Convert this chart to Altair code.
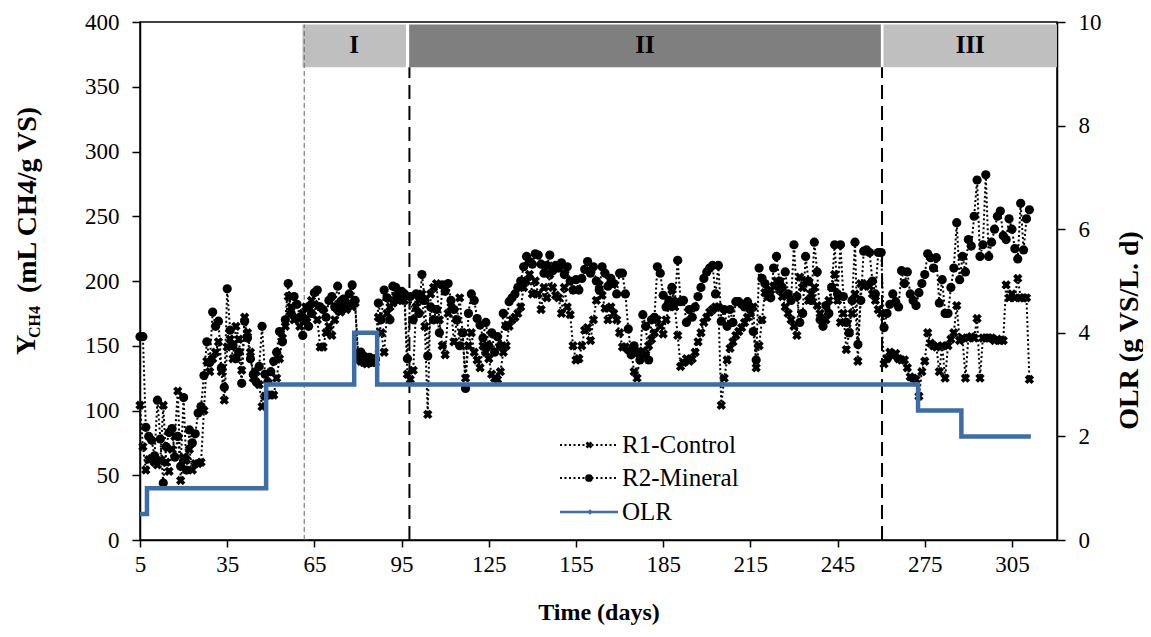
import altair as alt
import pandas as pd

first_day = 5
r1_control = [
    104, 72, 54, 62, 63, 60, 58, 62, 104, 60, 53, 70, 80, 115, 46, 64, 62, 70, 54, 59, 59, 60, 100, 138, 130, 140,
    145, 153, 130, 108, 149, 155, 140, 165, 155, 131, 172, 160, 145, 125, 130, 120, 103, 111, 112, 112,
    112, 125, 140, 156, 165, 188, 180, 170, 172, 165,
    175, 180, 180, 185, 182, 170, 149, 149, 160, 165, 158, 170, 178, 176, 180, 178, 183, 180, 183, 140,
    138, 137, 136, 137, 137, 137, 172, 160, 145, 175,
    180, 183, 188, 185, 185, 185, 128, 124, 131, 180, 185, 190, 165, 97, 190, 195, 198, 170, 150, 143,
    175, 180, 153, 170, 187, 160, 125, 150, 160, 145,
    139, 133, 150, 145, 140, 128, 125, 124, 130, 145, 150, 165, 170, 172, 175, 180, 195, 200, 205, 190,
    200, 190, 178, 195, 187, 205, 195, 189, 187, 175,
    195, 180, 174, 150, 139, 140, 150, 162, 164, 154, 170, 185, 197, 189, 179, 170, 180, 175, 170, 160,
    149, 149, 147, 146, 130, 125, 143, 146, 143, 150,
    155, 160, 170, 165, 159, 170, 180, 193, 180, 158, 134, 137, 140, 138, 140, 145, 153, 160, 168, 172,
    176, 178, 180, 180, 104, 125, 139, 148, 153, 158,
    161, 164, 168, 172, 175, 180, 133, 150, 170, 191, 188, 193, 196, 200, 193, 188, 180, 175, 170, 165,
    158, 203, 195, 200, 185, 190, 195, 181, 175, 170,
    170, 185, 195, 205, 185, 168, 175, 147, 160, 175, 190, 138, 198, 196, 198, 196, 190, 185, 178, 175,
    136, 140, 145, 142, 144, 140, 139, 139, 133, 126,
    125, 124, 111, 130, 138, 160, 152, 150, 149, 130, 150, 125, 150, 155, 160, 181, 154, 156, 125, 156,
    157, 156, 171, 125, 156, 156, 156, 156, 154, 155, 154, 154, 197, 187, 190, 187, 202, 187, 187, 187,
    124,
]
r2_mineral = [
    157, 157, 87, 80, 77, 65, 108, 78, 44, 72, 83, 86, 64, 80, 57, 110, 54, 85, 75, 82, 98, 103, 127, 153, 137, 176,
    165, 169, 133, 118, 194, 162, 150, 140, 145, 121, 169, 156, 140, 128, 122, 134, 165, 128, 122, 130,
    138, 145, 161, 153, 170, 198, 175, 188, 182, 172,
    158, 170, 165, 175, 191, 193, 180, 178, 172, 185, 188, 180, 196, 184, 186, 183, 190, 197, 185, 144,
    145, 142, 140, 141, 139, 140, 183, 170, 193, 187,
    170, 196, 195, 190, 192, 190, 140, 188, 170, 190, 175, 205, 185, 142, 180, 170, 178, 160, 197, 192,
    198, 185, 178, 170, 150, 160, 117, 175, 190, 185,
    171, 166, 156, 168, 150, 160, 145, 157, 150, 175, 165, 184, 187, 190, 195, 200, 211, 219, 215, 213,
    221, 220, 213, 206, 212, 220, 208, 212, 210, 214,
    205, 211, 200, 193, 201, 193, 202, 209, 215, 206, 211, 200, 193, 211, 206, 196, 202, 198, 190, 206,
    206, 190, 163, 143, 150, 145, 139, 174, 165, 139,
    170, 172, 211, 206, 189, 180, 185, 195, 184, 216, 184, 185, 168, 178, 172, 180, 188, 195, 202, 207,
    210, 212, 190, 212, 169, 178, 165, 178, 168, 184,
    184, 182, 180, 184, 180, 161, 139, 210, 202, 198, 192, 187, 210, 219, 200, 195, 207, 190, 185, 228,
    188, 168, 175, 219, 200, 185, 230, 207, 170, 165,
    181, 175, 195, 228, 190, 228, 188, 168, 160, 185, 230, 151, 185, 223, 224, 222, 200, 190, 222, 222,
    164, 175, 182, 190, 184, 180, 208, 198, 207, 190,
    185, 181, 191, 198, 205, 221, 218, 210, 218, 183, 201, 175, 175, 195, 210, 245, 201, 219, 207, 232,
    227, 250, 278, 219, 228, 282, 219, 230, 240, 250, 254, 235, 232, 248, 240, 225, 217, 260, 224, 248,
    255,
]
olr_day = [5, 7.4, 7.4, 48.4, 48.4, 78.7, 78.7, 86.6, 86.6, 272.7, 272.7, 287.6, 287.6, 311.5]
olr_value = [0.5, 0.5, 1, 1, 3, 3, 4, 4, 3, 3, 2.5, 2.5, 2, 2]

phase_label = ["I", "II", "III"]
phase_start = [60.9, 97.6, 260.8]
phase_end = [96.5, 259.9, 320.5]
phase_color = ["#BFBFBF", "#7F7F7F", "#BFBFBF"]
thin_line_day = [61.5]
thick_line_day = [97.7, 260.3]

x_ticks = [5, 35, 65, 95, 125, 155, 185, 215, 245, 275, 305]
y_ticks = [0, 50, 100, 150, 200, 250, 300, 350, 400]
olr_ticks = [0, 2, 4, 6, 8, 10]

SERIF = "Liberation Serif"
BLUE = "#3D6DA8"

r1_df = pd.DataFrame({"day": list(range(first_day, first_day + len(r1_control))), "value": r1_control})
r2_df = pd.DataFrame({"day": list(range(first_day, first_day + len(r2_mineral))), "value": r2_mineral})
olr_df = pd.DataFrame({"day": olr_day, "olr": olr_value, "idx": list(range(len(olr_day)))})
phase_df = pd.DataFrame({
    "label": phase_label, "start": phase_start, "end": phase_end, "color": phase_color,
    "top": [398] * 3, "bottom": [365] * 3,
    "mid": [(a + b) / 2 for a, b in zip(phase_start, phase_end)], "ty": [382] * 3,
})
thin_df = pd.DataFrame({"day": thin_line_day, "y0": [0], "y1": [398]})
thick_df = pd.DataFrame({"day": thick_line_day, "y0": [0, 0], "y1": [365, 365]})
one = pd.DataFrame({"k": [0]})

xscale = alt.Scale(domain=[5, 320.5], nice=False, zero=False)
yscale = alt.Scale(domain=[0, 400], nice=False)
XAX = alt.Axis(values=x_ticks, title="Time (days)", titlePadding=24, labelPadding=6, tickSize=7,
               labelFlush=False, titleFontSize=24)
YAX = alt.Axis(values=y_ticks, title=None, tickSize=8, labelPadding=13)


def xq(field):
    return alt.X(field, type="quantitative", scale=xscale, axis=XAX)


def yq(field):
    return alt.Y(field, type="quantitative", scale=yscale, axis=YAX)


bands = alt.Chart(phase_df).mark_rect().encode(
    x=xq("start"), x2="end", y=yq("top"), y2="bottom", color=alt.Color("color:N", scale=None),
)
band_text = alt.Chart(phase_df).mark_text(font=SERIF, fontSize=25, fontWeight="bold", color="black").encode(
    x=xq("mid"), y=yq("ty"), text="label:N"
)
thin_rule = alt.Chart(thin_df).mark_rule(color="#666666", strokeWidth=1, strokeDash=[5, 3]).encode(
    x=xq("day"), y=yq("y0"), y2="y1"
)
thick_rule = alt.Chart(thick_df).mark_rule(color="black", strokeWidth=2, strokeDash=[14, 7]).encode(
    x=xq("day"), y=yq("y0"), y2="y1"
)

dots = dict(color="black", strokeWidth=2, strokeDash=[2, 2.5])
r1_line = alt.Chart(r1_df).mark_line(**dots).encode(x=xq("day"), y=yq("value"))
r1_pts = alt.Chart(r1_df).mark_point(shape="cross", angle=45, filled=True, size=90, color="black",
                                     opacity=1).encode(x=xq("day"), y=yq("value"))
r2_line = alt.Chart(r2_df).mark_line(**dots).encode(x=xq("day"), y=yq("value"))
r2_pts = alt.Chart(r2_df).mark_point(shape="circle", filled=True, size=85, color="black",
                                     opacity=1).encode(x=xq("day"), y=yq("value"))

# left axis title with subscript
t_y = alt.Chart(one).mark_text(text="Y", font=SERIF, fontSize=28, fontWeight="bold", angle=270,
                               color="black").encode(x=alt.value(-113), y=alt.value(323))
t_sub = alt.Chart(one).mark_text(text="CH4", font=SERIF, fontSize=16, fontWeight="bold", angle=270,
                                 color="black").encode(x=alt.value(-105), y=alt.value(300))
t_rest = alt.Chart(one).mark_text(text="(mL CH4/g VS)", font=SERIF, fontSize=28, fontWeight="bold",
                                  angle=270, color="black").encode(x=alt.value(-112), y=alt.value(178))

# legend
leg = []
rows = [("R1-Control", 423, "cross"), ("R2-Mineral", 456, "circle")]
for name, yy, shp in rows:
    leg.append(alt.Chart(one).mark_rule(**dots).encode(x=alt.value(420), x2=alt.value(477), y=alt.value(yy)))
    leg.append(alt.Chart(one).mark_point(shape=shp, angle=45 if shp == "cross" else 0, filled=True,
                                         size=50 if shp == "cross" else 60, color="black", opacity=1)
               .encode(x=alt.value(449), y=alt.value(yy)))
    leg.append(alt.Chart(one).mark_text(text=name, font=SERIF, fontSize=25, align="left", baseline="middle",
                                        color="black").encode(x=alt.value(482), y=alt.value(yy)))
leg.append(alt.Chart(one).mark_rule(color=BLUE, strokeWidth=2.5).encode(
    x=alt.value(420), x2=alt.value(478), y=alt.value(490)))
leg.append(alt.Chart(one).mark_point(shape="diamond", filled=True, size=30, color=BLUE, opacity=1)
           .encode(x=alt.value(450), y=alt.value(490)))
leg.append(alt.Chart(one).mark_text(text="OLR", font=SERIF, fontSize=25, align="left", baseline="middle",
                                    color="black").encode(x=alt.value(482), y=alt.value(490)))

left = alt.layer(r1_line, bands, band_text, thin_rule, thick_rule, r1_pts, r2_line, r2_pts,
                 t_y, t_sub, t_rest, *leg)

olr = alt.Chart(olr_df).mark_line(color=BLUE, strokeWidth=4.5).encode(
    x=xq("day"),
    y=alt.Y("olr:Q", scale=alt.Scale(domain=[0, 10], nice=False),
            axis=alt.Axis(orient="right", values=olr_ticks, title="OLR (g VS/L. d)", tickSize=8,
                          labelPadding=13, titleAngle=270, titleX=72, titleY=308, titleAlign="center",
                          titleBaseline="middle", titleFontSize=28)),
    order="idx:Q",
)

chart = alt.layer(left, olr).resolve_scale(y="independent").properties(
    width=917, height=518,
    padding={"left": 132, "top": 14, "right": 86, "bottom": 89},
    autosize=alt.AutoSizeParams(type="none"),
).configure_view(stroke="black", strokeWidth=1.5).configure_axis(
    labelFont=SERIF, labelFontSize=23, labelColor="black",
    titleFont=SERIF, titleFontSize=25, titleFontWeight="bold", titleColor="black",
    domainColor="black", tickColor="black", domainWidth=1.5, tickWidth=1.5, grid=False,
)

chart.save("out.html", embed_options={"renderer": "svg", "actions": False})
